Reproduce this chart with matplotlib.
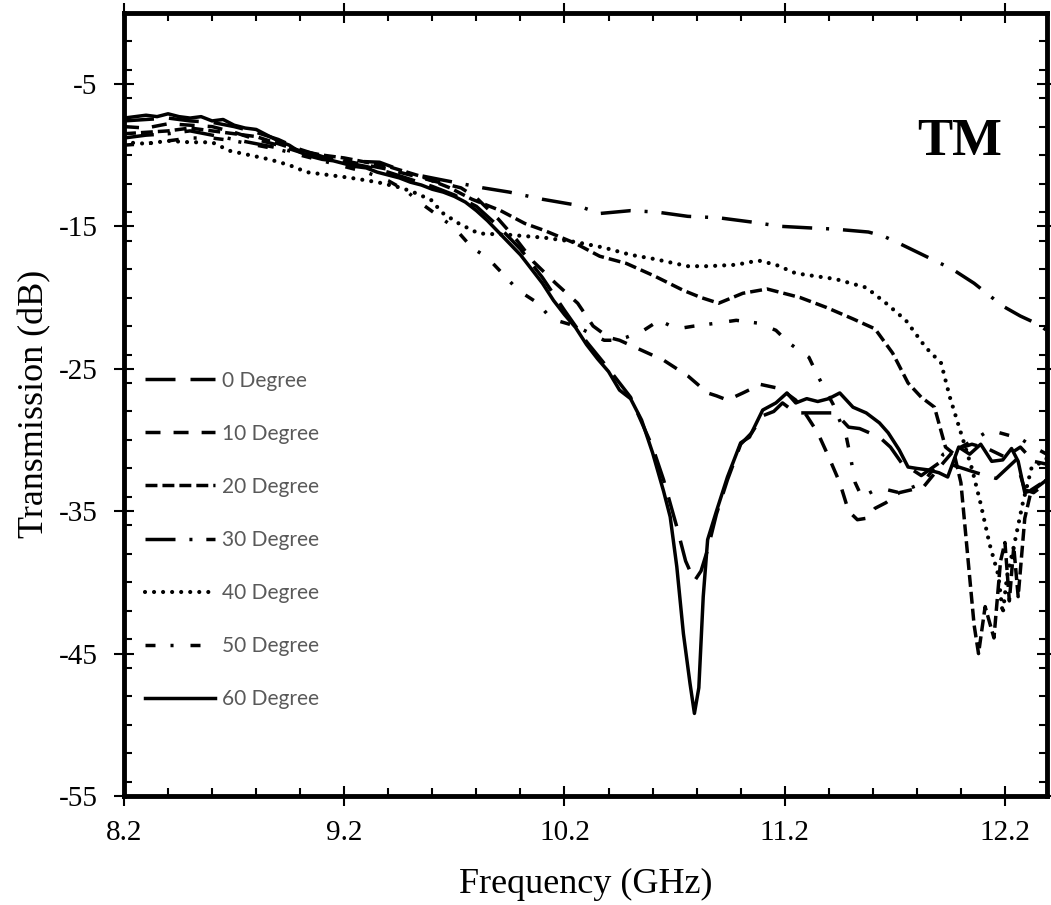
import numpy as np
import matplotlib
matplotlib.use("Agg")
from matplotlib import pyplot as plt
from matplotlib.ticker import MultipleLocator, FixedLocator

f0 = [8.20, 8.30, 8.40, 8.50, 8.60, 8.70, 8.80, 8.90, 9.00, 9.10, 9.20, 9.30, 9.40, 9.50, 9.60, 9.70, 9.80,
      9.90, 10.00, 10.10, 10.20, 10.30, 10.40, 10.50, 10.60, 10.65, 10.71, 10.75, 10.79, 10.82, 10.85, 10.89,
      10.94, 11.00, 11.05, 11.10, 11.15, 11.19, 11.25, 11.33, 11.43, 11.49, 11.54, 11.63, 11.68, 11.73, 11.82,
      11.92, 11.97, 12.07, 12.16, 12.25, 12.29, 12.33, 12.39]
s0 = [-7.6, -7.5, -7.4, -7.6, -7.7, -8.0, -8.4, -8.9, -9.6, -10.1, -10.5, -10.8, -11.2, -11.7, -12.2, -12.8,
      -13.6, -15.0, -16.6, -18.6, -20.9, -23.1, -25.0, -27.0, -30.5, -32.8, -36.1, -38.5, -39.9, -39.2, -37.7,
      -35.2, -32.8, -30.3, -29.5, -28.3, -28.0, -27.4, -28.1, -28.1, -28.1, -29.1, -29.2, -29.8, -30.5, -31.6,
      -32.5, -31.4, -31.8, -32.3, -32.7, -31.4, -33.5, -33.7, -33.0]

f10 = [8.20, 8.30, 8.40, 8.50, 8.60, 8.70, 8.80, 8.90, 9.00, 9.10, 9.20, 9.30, 9.40, 9.50, 9.60, 9.73, 9.80,
       9.90, 9.98, 10.06, 10.16, 10.26, 10.33, 10.40, 10.45, 10.55, 10.65, 10.76, 10.85, 10.89, 10.94, 11.01,
       11.09, 11.18, 11.25, 11.30, 11.35, 11.40, 11.45, 11.49, 11.53, 11.57, 11.61, 11.66, 11.72, 11.83, 11.92,
       11.97, 12.05, 12.12, 12.20, 12.27, 12.33, 12.39]
s10 = [-8.0, -8.1, -7.8, -7.9, -8.0, -8.4, -8.9, -9.3, -9.8, -10.2, -10.4, -10.7, -11.0, -11.4, -11.8, -12.3,
       -13.0, -14.5, -15.9, -17.5, -19.0, -20.4, -22.0, -22.8, -23.0, -23.7, -24.4, -25.5, -26.7, -26.9, -27.2,
       -26.7, -26.1, -26.4, -27.2, -28.3, -29.5, -31.2, -33.0, -35.0, -35.6, -35.5, -34.8, -34.4, -33.7, -33.3,
       -31.6, -30.7, -30.3, -30.6, -31.2, -30.5, -31.5, -31.7]

f20 = [8.20, 8.30, 8.40, 8.50, 8.60, 8.70, 8.80, 8.90, 9.00, 9.10, 9.20, 9.30, 9.40, 9.55, 9.68, 9.78, 9.91,
       10.02, 10.11, 10.25, 10.36, 10.48, 10.61, 10.74, 10.82, 10.90, 11.01, 11.12, 11.27, 11.39, 11.51, 11.61,
       11.69, 11.76, 11.82, 11.88, 11.93, 11.97, 12.00, 12.03, 12.06, 12.08, 12.11, 12.15, 12.18, 12.20, 12.22,
       12.24, 12.26, 12.29, 12.32, 12.39]
s20 = [-8.5, -8.4, -8.3, -8.1, -8.3, -8.5, -8.7, -9.2, -9.7, -10.0, -10.2, -10.5, -10.8, -11.5, -12.3, -13.1,
       -13.9, -14.8, -15.3, -16.2, -17.1, -17.6, -18.5, -19.5, -20.0, -20.4, -19.7, -19.4, -20.0, -20.7, -21.5,
       -22.2, -23.9, -26.0, -27.0, -27.7, -30.5, -31.0, -33.0, -38.0, -43.0, -45.0, -41.7, -43.9, -38.5, -37.2,
       -41.3, -37.5, -41.0, -35.5, -33.5, -32.8]

f30 = [8.20, 8.30, 8.40, 8.50, 8.60, 8.70, 8.80, 8.90, 9.00, 9.10, 9.20, 9.36, 9.50, 9.63, 9.83, 9.95, 10.10,
       10.25, 10.36, 10.50, 10.62, 10.76, 10.90, 11.05, 11.18, 11.30, 11.43, 11.58, 11.65, 11.72, 11.84, 11.96,
       12.06, 12.19, 12.27, 12.34, 12.39]
s30 = [-8.8, -8.6, -8.5, -8.3, -8.6, -8.9, -9.2, -9.5, -9.9, -10.2, -10.4, -10.5, -11.3, -11.7, -12.3, -12.6,
       -13.1, -13.5, -14.1, -13.9, -14.0, -14.3, -14.4, -14.7, -15.0, -15.1, -15.2, -15.4, -15.7, -16.2, -17.1,
       -18.0, -19.0, -20.6, -21.3, -21.8, -22.3]

f40 = [8.20, 8.30, 8.40, 8.50, 8.60, 8.68, 8.77, 8.86, 8.95, 9.03, 9.13, 9.23, 9.35, 9.46, 9.53, 9.60, 9.64,
       9.72, 9.81, 9.95, 10.11, 10.25, 10.38, 10.50, 10.61, 10.76, 10.85, 10.98, 11.08, 11.16, 11.25, 11.43,
       11.57, 11.66, 11.75, 11.84, 11.91, 11.95, 12.00, 12.05, 12.09, 12.13, 12.17, 12.19, 12.21, 12.24, 12.28,
       12.32, 12.39]
s40 = [-9.1, -9.2, -9.0, -9.1, -9.1, -9.7, -10.0, -10.3, -10.7, -11.2, -11.4, -11.6, -11.9, -12.3, -12.7,
       -13.2, -14.0, -14.8, -15.5, -15.6, -15.8, -16.1, -16.5, -17.0, -17.3, -17.8, -17.8, -17.7, -17.4, -17.7,
       -18.3, -18.7, -19.3, -20.4, -21.6, -23.5, -24.6, -27.0, -29.5, -32.0, -34.5, -37.3, -39.5, -42.2, -39.5,
       -37.5, -34.5, -32.0, -31.3]

f50 = [8.20, 8.30, 8.40, 8.50, 8.60, 8.70, 8.80, 8.90, 9.00, 9.10, 9.20, 9.30, 9.40, 9.48, 9.55, 9.63, 9.70,
       9.78, 9.85, 9.93, 9.99, 10.08, 10.14, 10.25, 10.38, 10.44, 10.48, 10.56, 10.63, 10.71, 10.79, 10.89,
       10.98, 11.08, 11.16, 11.22, 11.31, 11.35, 11.42, 11.48, 11.50, 11.52, 11.55, 11.60, 11.64, 11.72, 11.83,
       11.92, 12.00, 12.06, 12.13, 12.20, 12.27, 12.33, 12.39]
s50 = [-9.3, -9.2, -9.0, -8.8, -8.8, -9.0, -9.3, -9.6, -10.0, -10.4, -10.8, -11.2, -11.8, -12.5, -13.4, -14.3,
       -15.1, -16.5, -17.2, -18.5, -19.5, -20.4, -21.5, -22.0, -23.0, -23.0, -22.8, -22.3, -21.6, -22.2, -22.0,
       -21.8, -21.6, -21.8, -22.3, -23.2, -24.2, -25.5, -27.5, -29.8, -31.3, -33.0, -34.0, -33.6, -33.4, -33.7,
       -33.0, -31.0, -30.5, -30.0, -29.3, -29.6, -29.9, -30.5, -31.0]

f60 = [8.20, 8.25, 8.30, 8.35, 8.40, 8.45, 8.50, 8.55, 8.60, 8.65, 8.70, 8.75, 8.80, 8.85, 8.90, 8.95, 9.00,
       9.05, 9.10, 9.15, 9.20, 9.25, 9.30, 9.35, 9.40, 9.45, 9.50, 9.55, 9.60, 9.65, 9.70, 9.75, 9.80, 9.85,
       9.90, 9.95, 10.00, 10.05, 10.10, 10.15, 10.20, 10.25, 10.30, 10.35, 10.40, 10.45, 10.50, 10.55, 10.60,
       10.65, 10.68, 10.71, 10.74, 10.77, 10.79, 10.81, 10.83, 10.85, 10.89, 10.94, 11.00, 11.04, 11.10, 11.16,
       11.21, 11.25, 11.30, 11.35, 11.40, 11.45, 11.51, 11.57, 11.63, 11.67, 11.72, 11.76, 11.80, 11.85, 11.90,
       11.94, 11.99, 12.04, 12.09, 12.14, 12.19, 12.23, 12.26, 12.29, 12.33, 12.39]
s60 = [-7.4, -7.3, -7.2, -7.3, -7.1, -7.3, -7.4, -7.3, -7.6, -7.5, -7.9, -8.1, -8.2, -8.6, -9.0, -9.3, -9.8,
       -10.1, -10.3, -10.4, -10.6, -10.8, -10.9, -11.2, -11.4, -11.6, -11.9, -12.1, -12.4, -12.6, -12.9, -13.3,
       -13.9, -14.6, -15.4, -16.2, -17.0, -18.0, -19.0, -20.2, -21.2, -22.1, -23.3, -24.3, -25.2, -26.5, -27.1,
       -28.6, -30.9, -33.6, -35.4, -38.9, -43.6, -47.1, -49.2, -47.4, -41.0, -37.0, -35.0, -32.6, -30.2, -29.8,
       -27.9, -27.4, -26.7, -27.4, -27.1, -27.3, -27.1, -26.7, -27.7, -28.1, -28.8, -29.5, -30.7, -31.9, -32.0,
       -32.1, -32.3, -32.6, -30.5, -31.0, -30.3, -31.5, -31.4, -30.6, -31.5, -33.7, -33.5, -32.8]

labels = ["0 Degree", "10 Degree", "20 Degree", "30 Degree", "40 Degree", "50 Degree", "60 Degree"]

plt.rcParams['font.family'] = ['Liberation Serif', 'DejaVu Serif']
plt.rcParams['lines.scale_dashes'] = False
plt.rcParams['axes.unicode_minus'] = False

fig = plt.figure(figsize=(10.51, 9.05), dpi=100)
ax = fig.add_axes([0.118, 0.1204, 0.878, 0.8656])

lw = 2.5
ax.plot(f0, s0, color='k', lw=lw, dashes=(21.6, 10.8), label=labels[0])
ax.plot(f10, s10, color='k', lw=lw, dashes=(10.8, 9.4), label=labels[1])
ax.plot(f20, s20, color='k', lw=lw, dashes=(8.6, 3.6), label=labels[2])
ax.plot(f30, s30, color='k', lw=lw, dashes=(21.6, 10.0, 2.2, 10.0), label=labels[3])
ax.plot(f40, s40, color='k', lw=3.0, dashes=(0.01, 6.5), dash_capstyle='round', label=labels[4])
ax.plot(f50, s50, color='k', lw=lw, dashes=(7.2, 10.8, 2.2, 12.2), label=labels[5])
ax.plot(f60, s60, color='k', lw=lw, label=labels[6])

ax.set_xlim(8.2, 12.39)
ax.set_ylim(-55, 0)
ax.xaxis.set_major_locator(FixedLocator([8.2, 9.2, 10.2, 11.2, 12.2]))
ax.xaxis.set_minor_locator(FixedLocator(np.arange(8.2, 12.4, 0.2)))
ax.yaxis.set_major_locator(FixedLocator([-55, -45, -35, -25, -15, -5]))
ax.yaxis.set_minor_locator(MultipleLocator(2))

for side in ax.spines.values():
    side.set_linewidth(3.5)

ax.tick_params(which='major', direction='inout', length=14, width=1.5,
               top=True, right=True, labelsize=21, pad=10)
ax.tick_params(which='minor', direction='in', length=6, width=1.5, top=True, right=True)
ax.tick_params(axis='y', which='major', pad=12)

ax.set_xlabel("Frequency (GHz)", fontsize=26, labelpad=16)
ax.set_ylabel("Transmission (dB)", fontsize=26, labelpad=5)

ax.text(0.906, 0.835, "TM", transform=ax.transAxes, fontsize=38, fontweight='bold',
        ha='center', va='center')

leg = ax.legend(loc='upper left', bbox_to_anchor=(0.0228, 0.5432), frameon=False,
                handlelength=3.37, handletextpad=0.34, labelspacing=1.59,
                borderpad=0, borderaxespad=0,
                prop={'family': 'Lato', 'size': 15})
for t in leg.get_texts():
    t.set_color('#595959')

fig.savefig("out.png", dpi=100)
